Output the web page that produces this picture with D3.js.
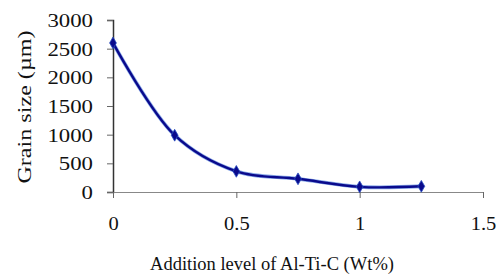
<!DOCTYPE html>
<html>
<head>
<meta charset="utf-8">
<script src="https://cdn.jsdelivr.net/npm/d3@7"></script>
<style>
  body { margin: 0; background: #fff; }
  svg text { font-family: "Liberation Serif", "Times New Roman", Times, "DejaVu Serif", serif; fill: #111; }
</style>
</head>
<body>
<svg id="chart"></svg>
<script>
let width = 496;
let height = 274;
let fontFamily = '"Liberation Serif", "Times New Roman", Times, "DejaVu Serif", serif';

// data
const additionLevel = [0, 0.25, 0.5, 0.75, 1.0, 1.25];
const grainSize = [2600, 990, 360, 230, 90, 100];
const xTicks = [0, 0.5, 1, 1.5];
const yTicks = [0, 500, 1000, 1500, 2000, 2500, 3000];

function main() {
    let padding = {'left': 113, 'right': 13, 'top': 20, 'bottom': 82};
    let svg = d3.select('#chart')
        .attr('width', width)
        .attr('height', height);

    let x = d3.scaleLinear().domain([0, 1.5]).range([padding.left, width - padding.right]);
    let y = d3.scaleLinear().domain([0, 3000]).range([height - padding.bottom, padding.top]);

    // y axis
    let yAxis = svg.append('g')
        .attr('transform', `translate(${padding.left},0)`)
        .attr('font-family', fontFamily)
        .call(d3.axisLeft(y).tickValues(yTicks).tickSize(6).tickFormat(d3.format('d')));
    yAxis.select('.domain').attr('stroke', '#333').attr('stroke-width', 1.5);
    yAxis.selectAll('.tick line').attr('stroke', '#666');
    yAxis.selectAll('.tick text')
        .attr('x', null)
        .attr('dy', null)
        .attr('dominant-baseline', 'central')
        .attr('transform', 'translate(-20,0) scale(1.2,1)')
        .style('font-size', '19px');

    // x axis
    let xAxis = svg.append('g')
        .attr('transform', `translate(0,${y(0)})`)
        .attr('font-family', fontFamily)
        .call(d3.axisBottom(x).tickValues(xTicks).tickSize(6).tickSizeOuter(0).tickFormat(d => d));
    xAxis.select('.domain').attr('stroke', '#888');
    xAxis.selectAll('.tick line').attr('stroke', '#666');
    xAxis.selectAll('.tick text')
        .attr('y', null)
        .attr('dy', null)
        .attr('dominant-baseline', 'central')
        .attr('transform', 'translate(0,31) scale(1.08,1)')
        .style('font-size', '19px');

    // titles
    svg.append('text')
        .attr('x', 272)
        .attr('y', 270)
        .attr('text-anchor', 'middle')
        .style('font-size', '18.5px')
        .text('Addition level of Al-Ti-C (Wt%)');

    svg.append('text')
        .attr('transform', 'translate(25,107) rotate(-90) scale(1.27,1)')
        .attr('text-anchor', 'middle')
        .attr('dominant-baseline', 'central')
        .style('font-size', '19px')
        .text('Grain size (µm)');

    // line
    let pts = additionLevel.map((d, i) => [d, grainSize[i]]);
    let line = d3.line()
        .x(d => x(d[0]))
        .y(d => y(d[1]))
        .curve(d3.curveCatmullRom.alpha(0.5));

    svg.append('path')
        .datum(pts)
        .attr('fill', 'none')
        .attr('stroke', '#3b6fd8')
        .attr('stroke-width', 3.8)
        .attr('opacity', 0.6)
        .attr('d', line);
    svg.append('path')
        .datum(pts)
        .attr('fill', 'none')
        .attr('stroke', '#0a0a8c')
        .attr('stroke-width', 2.4)
        .attr('d', line);

    svg.selectAll('.marker')
        .data(pts)
        .enter()
        .append('path')
        .attr('class', 'marker')
        .attr('transform', d => `translate(${x(d[0])},${y(d[1])})`)
        .attr('d', d3.symbol().type(d3.symbolDiamond).size(40))
        .attr('fill', '#0a0a8c')
        .attr('stroke', '#2a4fc0')
        .attr('stroke-width', 0.8);
}
main();
</script>
</body>
</html>
